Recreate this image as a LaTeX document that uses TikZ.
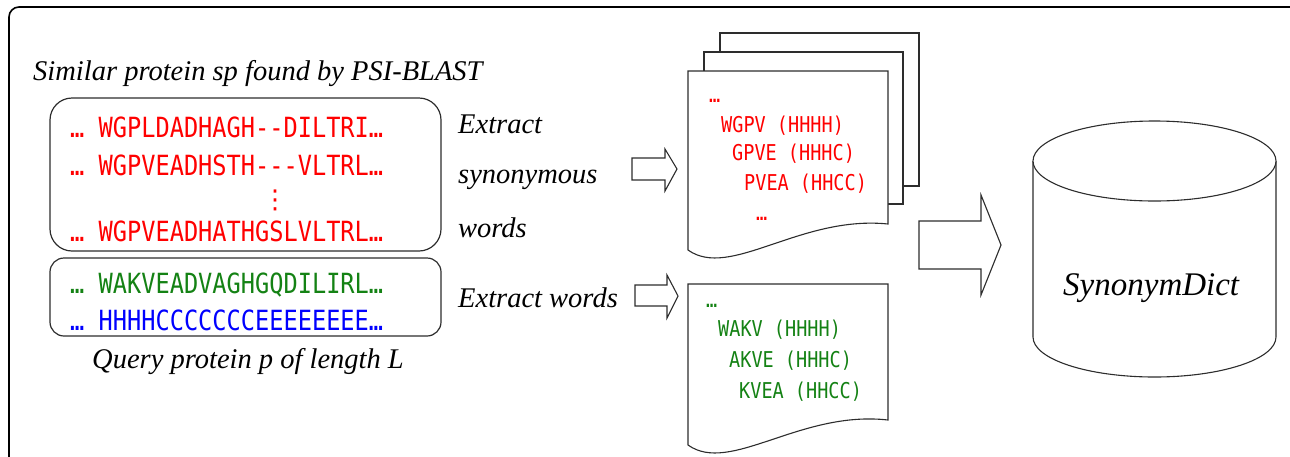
\documentclass[tikz,border=0pt]{standalone}
\usepackage{fontspec}
\setmainfont{Liberation Serif}
\newfontfamily\seqfont[FakeStretch=0.85,Ligatures=TeXOff]{DejaVu Sans Mono}
\newfontfamily\dvsans{DejaVu Sans}
\definecolor{seqred}{RGB}{255,0,0}
\definecolor{seqgreen}{RGB}{20,130,20}
\definecolor{seqblue}{RGB}{0,0,255}
\definecolor{edge}{RGB}{45,45,45}
\begin{document}
\begin{tikzpicture}[x=1pt,y=-1pt,
  lbl/.style={anchor=base west, inner sep=0pt, font=\fontsize{28.5}{30}\selectfont\itshape},
  seq/.style={anchor=base west, inner sep=0pt, font=\fontsize{27.8}{28}\selectfont\seqfont},
  wrd/.style={anchor=base west, inner sep=0pt, font=\fontsize{21.8}{22}\selectfont\seqfont},
  seqbox/.style={draw=edge, line width=1.2pt},
  page/.style={draw=edge, line width=1.1pt, fill=white},
  blockarrow/.style={draw=edge, line width=1.1pt, fill=white, line join=miter}]
\useasboundingbox (0,0) rectangle (1290,456);
\begin{scope}
  \clip (0,0) rectangle (1290,456);
  \draw[line width=1.6pt, rounded corners=10pt] (9,7) rectangle (1310,480);
\end{scope}

% left side
\node[lbl] (title) at (33,80) {Similar protein sp found by PSI-BLAST};
\draw[seqbox, rounded corners=22pt] (50,98) rectangle (441,251);
\draw[seqbox, rounded corners=14pt] (50,258) rectangle (441,336);
\node[seq, text=seqred] (s1) at (70,137) {… WGPLDADHAGH--DILTRI…};
\node[seq, text=seqred] (s2) at (70,175) {… WGPVEADHSTH---VLTRL…};
\node[inner sep=0pt, text=seqred, font=\fontsize{26}{26}\selectfont\dvsans] (vd) at (275,200) {⋮};
\node[seq, text=seqred] (s3) at (70,241) {… WGPVEADHATHGSLVLTRL…};
\node[seq, text=seqgreen] (q1) at (70,293) {… WAKVEADVAGHGQDILIRL…};
\node[seq, text=seqblue] (q2) at (70,330) {… HHHHCCCCCCCEEEEEEEE…};
\node[lbl] (query) at (92,368) {Query protein p of length L};

\node[lbl] (e1) at (458,133) {Extract};
\node[lbl] (e2) at (458,183) {synonymous};
\node[lbl] (e3) at (458,237) {words};
\node[lbl] (e4) at (458,307) {Extract words};

% arrows
\draw[blockarrow] (632,158) -- (665,158) -- (665,149) -- (677,169) -- (665,191) -- (665,180) -- (632,180) -- cycle;
\draw[blockarrow] (635,285) -- (667,285) -- (667,275) -- (678,296) -- (667,318) -- (667,306) -- (635,306) -- cycle;

% document stack
\draw[page] (720,33) rectangle (919,186);
\draw[page] (704,52) rectangle (903,204);
\draw[page] (688,71) -- (888,71) -- (888,224) .. controls (800,215) and (730,280) .. (688,250) -- cycle;
\node[wrd, text=seqred] (d0) at (709,102) {…};
\node[wrd, text=seqred] (d1) at (721,132) {WGPV (HHHH)};
\node[wrd, text=seqred] (d2) at (732,160) {GPVE (HHHC)};
\node[wrd, text=seqred] (d3) at (744,190) {PVEA (HHCC)};
\node[wrd, text=seqred] (d4) at (756,220) {…};

% query document
\draw[page] (688,284) -- (888,284) -- (888,420) .. controls (800,410) and (730,475) .. (688,445) -- cycle;
\node[wrd, text=seqgreen] (w0) at (706,307) {…};
\node[wrd, text=seqgreen] (w1) at (718,336) {WAKV (HHHH)};
\node[wrd, text=seqgreen] (w2) at (729,367) {AKVE (HHHC)};
\node[wrd, text=seqgreen] (w3) at (739,398) {KVEA (HHCC)};

% big arrow
\draw[blockarrow] (919,221) -- (981,221) -- (981,195) -- (1001,245) -- (981,295) -- (981,269) -- (919,269) -- cycle;

% cylinder
\draw[draw=edge, line width=1.1pt, fill=white] (1033,161) -- (1033,337) arc[start angle=180, end angle=0, x radius=121.5, y radius=40] -- (1276,161);
\draw[draw=edge, line width=1.1pt, fill=white] (1154.5,161) ellipse [x radius=121.5, y radius=40];
\node[anchor=base west, inner sep=0pt, font=\fontsize{33}{34}\selectfont\itshape] (dict) at (1063,295) {SynonymDict};
\end{tikzpicture}
\end{document}
